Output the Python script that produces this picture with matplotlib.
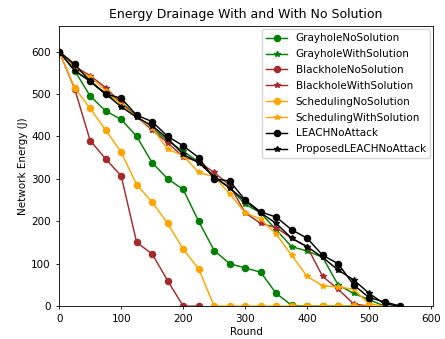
import numpy as np
import matplotlib.pyplot as plt

rounds = list(range(0, 575, 25))

grayhole_no = [600, 555, 495, 460, 440, 400, 338, 300, 275, 200, 131, 100, 90, 80, 30, 2,
               0, 0, 0, 0, 0]
grayhole_with = [600, 555, 530, 500, 480, 448, 420, 390, 365, 340, 305, 280, 240, 220, 180, 140,
                 130, 115, 50, 30, 15, 0]
blackhole_no = [600, 512, 390, 347, 307, 150, 123, 60, 0, 0]
blackhole_with = [600, 565, 543, 515, 478, 446, 415, 385, 352, 340, 315, 285, 220, 195, 185, 160,
                  140, 70, 40, 5, 0]
scheduling_no = [600, 514, 466, 415, 363, 286, 245, 195, 134, 88, 0, 0, 0, 0, 0, 0,
                 0, 0, 0, 0, 0]
scheduling_with = [600, 560, 540, 508, 475, 445, 420, 370, 355, 315, 305, 265, 220, 205, 170, 120,
                   70, 48, 45, 40, 5, 0]
leach_no = [600, 570, 530, 500, 490, 450, 435, 400, 378, 350, 300, 295, 250, 222, 210, 180,
            160, 120, 100, 50, 20, 10, 0]
proposed_leach = [600, 555, 530, 500, 470, 445, 425, 395, 358, 338, 305, 278, 248, 220, 195, 160,
                  140, 115, 85, 62, 30, 5, 0]

series = [
    ("GrayholeNoSolution", grayhole_no, "green", "o"),
    ("GrayholeWithSolution", grayhole_with, "green", "*"),
    ("BlackholeNoSolution", blackhole_no, "brown", "o"),
    ("BlackholeWithSolution", blackhole_with, "brown", "*"),
    ("SchedulingNoSolution", scheduling_no, "orange", "o"),
    ("SchedulingWithSolution", scheduling_with, "orange", "*"),
    ("LEACHNoAttack", leach_no, "black", "o"),
    ("ProposedLEACHNoAttack", proposed_leach, "black", "*"),
]

fig = plt.figure(figsize=(4.45, 3.39), dpi=100)
ax = plt.gca()

for name, vals, color, marker in series:
    ms = 4.4 if marker == "o" else 4.0
    ax.plot(rounds[:len(vals)], vals, color=color, marker=marker, markersize=ms,
            linewidth=1.05, label=name)

ax.set_xlim(0, 603)
ax.set_ylim(0, 660)
ax.set_xticks(range(0, 700, 100))
ax.tick_params(labelsize=7.5, length=2.5, width=0.6)
for s in ax.spines.values():
    s.set_linewidth(0.6)

ax.set_title("Energy Drainage With and With No Solution", fontsize=9)
ax.set_xlabel("Round", fontsize=7.5, labelpad=1.5)
ax.set_ylabel("Network Energy (J)", fontsize=7.5, labelpad=2)
ax.legend(fontsize=7.5, loc="upper right", borderaxespad=0.3, labelspacing=0.56,
          handlelength=2.0, markerscale=1.0)

plt.subplots_adjust(left=0.133, right=0.973, top=0.923, bottom=0.097)
plt.savefig("out.png", dpi=100)
